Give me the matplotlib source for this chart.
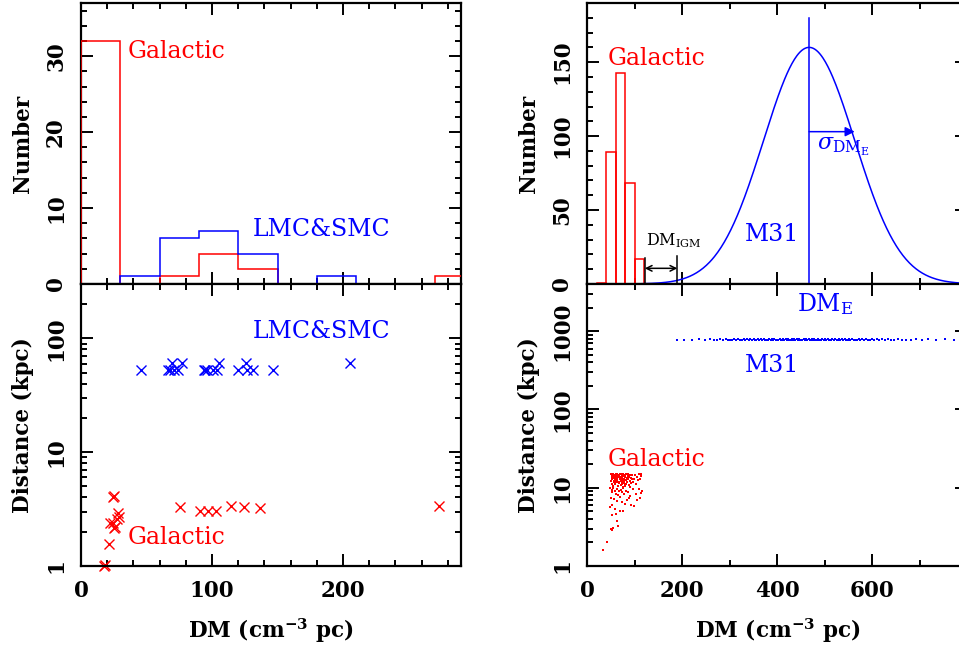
import numpy as np
import matplotlib
matplotlib.use("Agg")
import matplotlib.pyplot as plt
from matplotlib.ticker import MultipleLocator, FixedLocator, NullFormatter

plt.rcParams['font.family'] = ['DejaVu Serif']
plt.rcParams['mathtext.fontset'] = 'dejavuserif'

# ---------------- data ----------------
# top-left histogram (DM bins of 30)
hist_edges_left = [0, 30, 60, 90, 120, 150, 180, 210, 240, 270, 300]
gal_counts_left = [32, 0, 1, 4, 2, 0, 0, 0, 0, 1]
mc_counts_left = [0, 1, 6, 7, 4, 0, 1, 0, 0, 0]

# bottom-left scatter
gal_dm_left = [17.5, 18.5, 21.6, 24.3, 25.0, 22.1, 24.7, 26.0, 27.2, 28.0, 29.0, 25.4,
               75.6, 90.8, 96.8, 102.7, 114.2, 124.4, 136.6, 273.5]
gal_dist_left = [1.0, 1.02, 1.55, 4.0, 4.1, 2.37, 2.40, 2.21, 2.57, 2.90, 2.71, 2.17,
                 3.27, 3.06, 3.06, 3.06, 3.35, 3.27, 3.2, 3.35]
mc_dm_left = [45.5, 66.2, 68.0, 71.0, 73.8, 69.7, 76.9, 93.5, 95.0, 96.5, 101.0, 103.6,
              105.6, 119.5, 126.0, 127.0, 131.0, 146.8, 205.3]
mc_dist_left = [53, 53, 53, 53, 53, 61, 61, 53, 53, 53, 53, 53,
                61, 53, 61, 53, 53, 53, 61]

# top-right histogram (DM bins of 20)
hist_edges_right = [0, 20, 40, 60, 80, 100, 120, 140]
gal_counts_right = [0, 1, 89, 143, 68, 17, 0]

# M31 Gaussian model parameters
m31_mean = 467.0
m31_sigma = 96.0
m31_peak = 160.0
dm_igm_lo = 121.0
dm_igm_hi = 189.5

# bottom-right scatter: Galactic simulated sources
gal_dm_right = [49, 51, 52, 53, 54, 55, 56, 57, 58, 59, 60, 61, 62, 63, 64, 65, 66, 67, 68, 69,
                70, 71, 72, 73, 74, 75, 76, 77, 78, 79, 80, 81, 82, 83, 84, 85, 86, 87, 88, 89,
                90, 92, 93, 95, 96, 98, 100, 102, 104, 106, 108, 110, 112, 114, 50, 53, 55, 57, 59, 61,
                63, 65, 67, 69, 71, 73, 75, 77, 79, 52, 56, 60, 64, 68, 72, 76, 80, 58, 62, 66,
                70, 74, 78, 54, 82, 86, 90, 94,
                48, 51, 53, 55, 58, 60, 62, 64, 66, 68, 70, 72, 75, 78, 82, 86, 90, 96, 102, 108,
                112, 104, 50, 56, 63, 73, 84, 92, 99, 110, 52, 58, 68, 76, 48, 60, 51, 62, 64, 50,
                52, 42, 34, 55, 80, 88, 115]
gal_dist_right = [14.8, 13.9, 14.5, 12.8, 15.0, 13.2, 14.1, 12.1, 14.7, 13.5, 11.8, 14.9, 13.0, 12.4, 14.3, 13.7, 11.5, 14.6, 12.9, 13.4,
                  15.0, 12.2, 14.0, 11.9, 13.6, 14.8, 12.6, 13.1, 14.4, 11.2, 13.8, 12.5, 14.9, 13.3, 11.7, 14.2, 12.8, 13.9, 10.9, 14.6,
                  12.3, 13.5, 11.4, 14.7, 12.0, 13.1, 14.4, 11.0, 13.7, 12.6, 14.9, 13.0, 14.3, 15.0, 12.2, 11.3, 14.9, 13.8, 11.0, 12.6,
                  14.8, 10.5, 12.0, 14.9, 13.9, 14.5, 10.2, 11.6, 14.0, 13.2, 11.9, 13.9, 12.0, 14.9, 11.1, 14.2, 10.6, 12.7, 14.5, 13.9,
                  10.8, 12.9, 12.2, 10.4, 11.3, 14.8, 10.1, 12.9,
                  9.8, 9.3, 8.9, 10.0, 9.1, 8.4, 9.6, 8.1, 9.0, 7.6, 9.4, 8.7, 9.9, 8.2, 9.2, 8.8, 7.9, 9.5, 8.3, 9.7,
                  8.6, 7.0, 7.4, 7.1, 6.8, 6.5, 6.9, 6.0, 5.9, 7.4, 6.0, 5.4, 5.1, 5.1, 5.6, 4.6, 4.5, 3.8, 3.2, 3.0,
                  2.9, 2.0, 1.6, 3.1, 6.2, 7.3, 9.1]

# bottom-right scatter: M31 simulated sources
m31_dm = [188, 203, 221, 236, 247, 258, 266, 272, 279, 285, 291, 296, 301, 305, 309, 314, 318, 322, 325, 329,
          333, 336, 340, 343, 346, 350, 353, 356, 359, 362, 365, 368, 371, 374, 377, 380, 383, 386, 388, 391,
          394, 397, 399, 402, 405, 407, 410, 413, 415, 418, 420, 423, 425, 428, 431, 433, 436, 438, 441, 443,
          446, 448, 451, 453, 456, 458, 461, 463, 466, 468, 470, 473, 475, 478, 480, 483, 485, 488, 490, 493,
          495, 498, 501, 503, 506, 508, 511, 514, 516, 519, 522, 525, 527, 530, 533, 536, 539, 542, 545, 548,
          551, 554, 558, 561, 564, 568, 571, 575, 579, 583, 587, 591, 595, 600, 604, 609, 614, 620, 626, 632,
          639, 646, 654, 662, 671, 681, 692, 704, 718, 734, 752, 771, 786]
m31_dist = [772, 780, 776, 785, 768, 790, 779, 774, 783, 770, 788, 777, 781, 769, 786, 775, 792, 778, 771, 784,
            776, 789, 773, 782, 767, 787, 779, 774, 791, 770, 783, 776, 786, 772, 780, 768, 789, 777, 784, 771,
            792, 775, 781, 769, 786, 778, 773, 790, 776, 783, 770, 787, 779, 774, 785, 768, 791, 777, 782, 772,
            788, 776, 780, 769, 786, 774, 783, 771, 790, 778, 775, 787, 770, 784, 779, 773, 789, 776, 781, 768,
            786, 772, 783, 777, 791, 770, 780, 775, 788, 769, 784, 778, 773, 790, 776, 782, 771, 787, 779, 774,
            785, 768, 789, 777, 781, 772, 786, 775, 783, 770, 790, 778, 774, 787, 769, 782, 776, 791, 771, 784,
            779, 773, 788, 775, 781, 770, 786, 777, 783, 772, 789, 776, 780]

# ---------------- figure ----------------
W, H = 959, 654
fig = plt.figure(figsize=(W / 100, H / 100), dpi=100)

def ax_rect(x0, x1, ytop, ybot):
    return [x0 / W, 1 - ybot / H, (x1 - x0) / W, (ybot - ytop) / H]

ax_tl = fig.add_axes(ax_rect(81, 461, 3, 284))
ax_bl = fig.add_axes(ax_rect(81, 461, 284, 566))
ax_tr = fig.add_axes(ax_rect(587.3, 967.3, 3, 284))
ax_br = fig.add_axes(ax_rect(587.3, 967.3, 284, 566))

RED = '#ff0000'
BLUE = '#0000ff'
FS_TICK = 15.5
FS_LABEL = 15.5
FS_ANN = 17
TICK_FONT = dict(fontsize=FS_TICK, fontweight='bold')
LABEL_FONT = dict(fontsize=FS_LABEL, fontweight='bold')

for ax in (ax_tl, ax_bl, ax_tr, ax_br):
    for s in ax.spines.values():
        s.set_linewidth(1.6)
    ax.tick_params(which='both', direction='in', top=True, right=True,
                   width=1.4, labelsize=FS_TICK, pad=10)
    ax.tick_params(which='major', length=8.6)
    ax.tick_params(which='minor', length=4.3)

# ---- top-left ----
ax_tl.stairs(gal_counts_left, hist_edges_left, color=RED, lw=1.1, zorder=3)
ax_tl.stairs(mc_counts_left, hist_edges_left, color=BLUE, lw=1.1, zorder=3.1)
ax_tl.set_xlim(0, 290)
ax_tl.set_ylim(0, 37)
ax_tl.xaxis.set_major_locator(MultipleLocator(100))
ax_tl.xaxis.set_minor_locator(MultipleLocator(20))
ax_tl.yaxis.set_minor_locator(MultipleLocator(2))
ax_tl.set_yticks([0, 10, 20, 30])
ax_tl.set_yticklabels(['0', '10', '20', '30'], **TICK_FONT)
ax_tl.set_xticklabels([])
ax_tl.text(35.9, 29.8, 'Galactic', color=RED, fontsize=FS_ANN, ha='left', va='baseline')
ax_tl.text(130.8, 6.34, 'LMC&SMC', color=BLUE, fontsize=FS_ANN, ha='left', va='baseline')
ax_tl.set_ylabel('Number', **LABEL_FONT)

# ---- bottom-left ----
ax_bl.plot(gal_dm_left, gal_dist_left, 'x', color=RED, ms=7.2, mew=1.0, clip_on=False)
ax_bl.plot(mc_dm_left, mc_dist_left, 'x', color=BLUE, ms=7.2, mew=1.0)
ax_bl.set_yscale('log')
ax_bl.set_xlim(0, 290)
ax_bl.set_ylim(1, 300)
ax_bl.xaxis.set_minor_locator(MultipleLocator(20))
ax_bl.set_xticks([0, 100, 200])
ax_bl.set_xticklabels(['0', '100', '200'], **TICK_FONT)
ax_bl.yaxis.set_minor_locator(FixedLocator([m * 10 ** e for e in range(0, 3) for m in range(2, 10)]))
ax_bl.yaxis.set_minor_formatter(NullFormatter())
ax_bl.set_yticks([1, 10, 100])
ax_bl.set_yticklabels(['1', '10', '100'], **TICK_FONT)
ax_bl.text(130.8, 101, 'LMC&SMC', color=BLUE, fontsize=FS_ANN, ha='left', va='baseline')
ax_bl.text(35.9, 1.56, 'Galactic', color=RED, fontsize=FS_ANN, ha='left', va='baseline')
ax_bl.set_ylabel('Distance (kpc)', **LABEL_FONT)
ax_bl.set_xlabel(r'DM (cm$^{\mathbf{-3}}$ pc)', **LABEL_FONT)

# ---- top-right ----
ax_tr.bar(hist_edges_right[:-1], gal_counts_right, width=20, align='edge', fill=False,
          edgecolor=RED, lw=1.1, zorder=3)
xg = np.linspace(115, 800, 400)
yg = m31_peak * np.exp(-0.5 * ((xg - m31_mean) / m31_sigma) ** 2)
ax_tr.plot(xg, yg, color=BLUE, lw=1.1, zorder=3)
ax_tr.plot([m31_mean, m31_mean], [0, 180], color=BLUE, lw=1.1, zorder=3)
ax_tr.annotate('', xy=(m31_mean + m31_sigma, 103), xytext=(m31_mean, 103),
               arrowprops=dict(arrowstyle='-|>', color=BLUE, lw=1.1, mutation_scale=14,
                               shrinkA=0, shrinkB=0))
ax_tr.plot([dm_igm_lo, dm_igm_lo], [0, 17.4], color='black', lw=1.1, zorder=3)
ax_tr.plot([dm_igm_hi, dm_igm_hi], [0, 19], color='black', lw=1.1, zorder=3)
ax_tr.annotate('', xy=(dm_igm_hi, 10.6), xytext=(dm_igm_lo, 10.6),
               arrowprops=dict(arrowstyle='<->', color='black', lw=1.1, mutation_scale=10,
                               shrinkA=0, shrinkB=0))
ax_tr.text(123, 26.3, r'DM$_{\rm IGM}$', color='black', fontsize=11.5, ha='left', va='baseline')
ax_tr.text(42, 147.8, 'Galactic', color=RED, fontsize=FS_ANN, ha='left', va='baseline')
ax_tr.text(332, 29.2, 'M31', color=BLUE, fontsize=FS_ANN, ha='left', va='baseline')
ax_tr.text(483, 91, r'$\sigma_{\rm DM_E}$', color=BLUE, fontsize=16, ha='left', va='baseline')
ax_tr.set_xlim(0, 800)
ax_tr.set_ylim(0, 190)
ax_tr.xaxis.set_major_locator(MultipleLocator(200))
ax_tr.xaxis.set_minor_locator(MultipleLocator(100))
ax_tr.yaxis.set_minor_locator(MultipleLocator(10))
ax_tr.set_yticks([0, 50, 100, 150])
ax_tr.set_yticklabels(['0', '50', '100', '150'], **TICK_FONT)
ax_tr.set_xticklabels([])
ax_tr.set_ylabel('Number', **LABEL_FONT)

# ---- bottom-right ----
ax_br.plot(gal_dm_right, gal_dist_right, 's', color=RED, ms=1.7, mew=0)
ax_br.plot(m31_dm, m31_dist, 's', color=BLUE, ms=1.7, mew=0)
ax_br.set_yscale('log')
ax_br.set_xlim(0, 800)
ax_br.set_ylim(1, 4000)
ax_br.xaxis.set_minor_locator(MultipleLocator(100))
ax_br.set_xticks([0, 200, 400, 600, 800])
ax_br.set_xticklabels(['0', '200', '400', '600', ''], **TICK_FONT)
ax_br.yaxis.set_minor_locator(FixedLocator([m * 10 ** e for e in range(0, 4) for m in range(2, 10)]))
ax_br.yaxis.set_minor_formatter(NullFormatter())
ax_br.set_yticks([1, 10, 100, 1000])
ax_br.set_yticklabels(['1', '10', '100', '1000'], **TICK_FONT)
ax_br.text(441, 1803, r'DM$_{\rm E}$', color=BLUE, fontsize=FS_ANN, ha='left', va='baseline')
ax_br.text(332, 298, 'M31', color=BLUE, fontsize=FS_ANN, ha='left', va='baseline')
ax_br.text(42, 18.7, 'Galactic', color=RED, fontsize=FS_ANN, ha='left', va='baseline')
ax_br.set_ylabel('Distance (kpc)', **LABEL_FONT)
ax_br.set_xlabel(r'DM (cm$^{\mathbf{-3}}$ pc)', **LABEL_FONT)

for ax in (ax_tl, ax_bl, ax_tr, ax_br):
    for lab in ax.get_yticklabels():
        lab.set_rotation(90)
        lab.set_va('center')
    ax.yaxis.set_label_coords(-0.153, 0.5)
    ax.yaxis.label.set_va('center')

for ax in (ax_bl, ax_br):
    ax.xaxis.set_label_coords(0.5, -0.254)
    ax.xaxis.label.set_va('baseline')

fig.savefig('out.png', dpi=100)
